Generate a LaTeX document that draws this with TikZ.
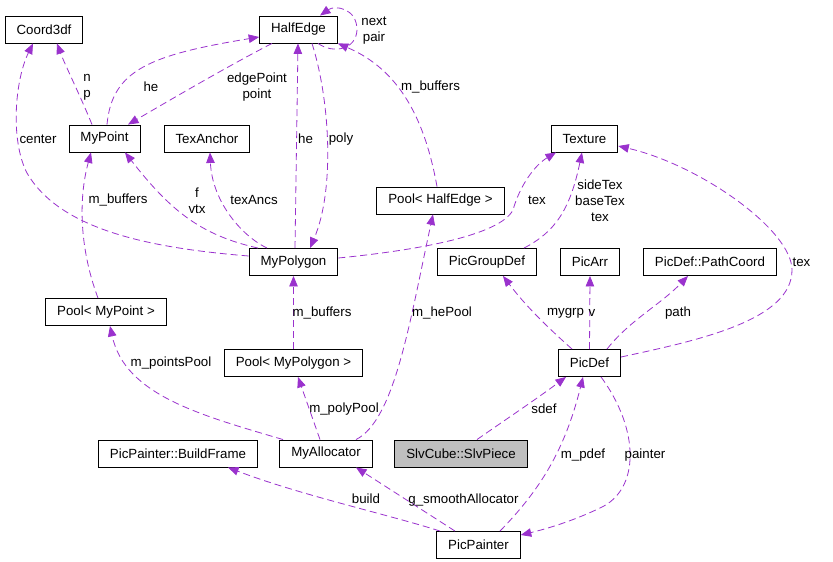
\documentclass[tikz,border=0pt]{standalone}
\usepackage{fontspec}
\setmainfont{Liberation Sans}
\usetikzlibrary{arrows.meta}
\definecolor{edgecol}{HTML}{9A32CD}
\definecolor{slvfill}{HTML}{BFBFBF}
\tikzset{
  cls/.style={draw=black, line width=0.9bp, fill=white, inner xsep=11.5bp, inner ysep=0bp,
    minimum height=27bp, font=\fontsize{13.3bp}{16bp}\selectfont},
  rel/.style={draw=edgecol, line width=0.8bp, dash pattern=on 7bp off 4bp,
    -{Triangle[length=10.5bp,width=8.5bp,fill=edgecol]}},
  lbl/.style={inner sep=0bp, align=center, font=\fontsize{13.3bp}{16bp}\selectfont}
}
\begin{document}
\begin{tikzpicture}[x=1bp,y=-1bp]
\useasboundingbox (0,0) rectangle (833,562);
% nodes
\node[cls] (coord) at (44,29.5) {Coord3df};
\node[cls] (half) at (298.5,29.5) {HalfEdge};
\node[cls] (mypoint) at (104.5,138.5) {MyPoint};
\node[cls] (texanchor) at (207,138.5) {TexAnchor};
\node[cls] (texture) at (584.5,138.5) {Texture};
\node[cls] (poolhe) at (440.5,200.5) {Pool< HalfEdge >};
\node[cls] (mypoly) at (293.5,262) {MyPolygon};
\node[cls] (picgroup) at (487,262) {PicGroupDef};
\node[cls] (picarr) at (590,262) {PicArr};
\node[cls] (pathcoord) at (710,262) {PicDef::PathCoord};
\node[cls] (poolpt) at (106,312) {Pool< MyPoint >};
\node[cls] (poolpoly) at (293.5,363) {Pool< MyPolygon >};
\node[cls] (picdef) at (589.5,363) {PicDef};
\node[cls] (build) at (178,453.5) {PicPainter::BuildFrame};
\node[cls] (alloc) at (326,453.5) {MyAllocator};
\node[cls, fill=slvfill] (slv) at (461,453.5) {SlvCube::SlvPiece};
\node[cls] (painter) at (478.5,545) {PicPainter};

% edges
\draw[rel] ([yshift=6bp]mypoly.west) .. controls (150,248) and (60,230) .. (27,173)
  .. controls (10,140) and (15,80) .. ([xshift=-11bp]coord.south);
\draw[rel] ([xshift=-12.5bp]mypoint.north) .. controls (80,95) and (65,65) .. ([xshift=13bp]coord.south);
\draw[rel] ([xshift=2.5bp]mypoint.north) .. controls (112,70) and (150,55) .. ([yshift=-7.5bp]half.west);
\draw[rel] ([xshift=-26.5bp]half.south) .. controls (230,65) and (170,100) .. ([xshift=23.5bp]mypoint.north);
\draw[rel] ([xshift=19.5bp]half.south) .. controls (333,54) and (356,50) .. (357,30)
  .. controls (357,8) and (335,5) .. ([xshift=21.5bp]half.north);
\draw[rel] ([xshift=1.5bp]mypoly.north) -- ([xshift=-0.5bp]half.south);
\draw[rel] ([xshift=13.5bp]half.south) .. controls (330,100) and (335,190) .. ([xshift=16.5bp]mypoly.north);
\draw[rel] ([xshift=-3.5bp]poolhe.north) .. controls (425,120) and (400,70) .. (half.south east);
\draw[rel] ([xshift=-35.5bp]mypoly.north) .. controls (200,235) and (170,210) .. ([xshift=20.5bp]mypoint.south);
\draw[rel] ([xshift=-26.5bp]mypoly.north) .. controls (240,235) and (212,200) .. ([xshift=3bp]texanchor.south);
\draw[rel] ([xshift=-8bp]poolpt.north) .. controls (80,250) and (78,200) .. ([xshift=-13.5bp]mypoint.south);
\draw[rel] ([yshift=4bp]mypoly.east) .. controls (420,250) and (500,235) .. (513,210)
  .. controls (520,185) and (535,165) .. ([xshift=-28.5bp]texture.south);
\draw[rel] ([xshift=37bp]picgroup.north) .. controls (555,232) and (570,210) .. ([xshift=-2.5bp]texture.south);
\draw[rel] ([yshift=6bp]picdef.east) .. controls (700,340) and (792,320) .. (792,270)
  .. controls (792,230) and (700,165) .. ([yshift=-7.5bp]texture.east);
\draw[rel] (poolpoly.north) -- (mypoly.south);
\draw[rel] ([xshift=-43bp]alloc.north) .. controls (200,415) and (125,395) .. ([xshift=4bp]poolpt.south);
\draw[rel] ([xshift=-6bp]alloc.north) -- ([xshift=4.5bp]poolpoly.south);
\draw[rel] ([xshift=30bp]alloc.north) .. controls (395,420) and (410,320) .. ([xshift=-7.5bp]poolhe.south);
\draw[rel] ([xshift=-17.5bp]picdef.north) .. controls (545,325) and (525,305) .. ([xshift=16bp]picgroup.south);
\draw[rel] (picdef.north) -- (picarr.south);
\draw[rel] ([xshift=17.5bp]picdef.north) .. controls (630,320) and (660,305) .. ([xshift=-22bp]pathcoord.south);
\draw[rel] ([xshift=16bp]slv.north) .. controls (505,420) and (535,400) .. ([xshift=-23.5bp]picdef.south);
\draw[rel] ([xshift=21.5bp]painter.north) .. controls (540,490) and (565,450) .. ([xshift=-6.5bp]picdef.south);
\draw[rel] ([xshift=11.5bp]picdef.south) .. controls (640,430) and (640,490) .. (600,508)
  .. controls (575,520) and (550,528) .. ([yshift=10bp]painter.east);
\draw[rel] ([xshift=-38.5bp]painter.north) .. controls (390,515) and (300,495) .. ([xshift=50bp]build.south);
\draw[rel] ([xshift=-23.5bp]painter.north) -- ([xshift=30bp]alloc.south);

% labels
\node[lbl] (l1) at (38,139) {center};
\node[lbl] (l2) at (87,87) {n\\p};
\node[lbl] (l3) at (151,87) {he};
\node[lbl] (l4) at (257,87) {edgePoint\\point};
\node[lbl] (l5) at (374,31) {next\\pair};
\node[lbl] (l6) at (305.5,139) {he};
\node[lbl] (l7) at (341,139) {poly};
\node[lbl] (l8) at (430.5,87) {m\_buffers};
\node[lbl] (l9) at (197,201) {f\\vtx};
\node[lbl] (l10) at (254,200) {texAncs};
\node[lbl] (l11) at (118,200) {m\_buffers};
\node[lbl] (l12) at (537,200) {tex};
\node[lbl] (l13) at (600,201) {sideTex\\baseTex\\tex};
\node[lbl] (l14) at (801.5,262) {tex};
\node[lbl] (l15) at (322,313) {m\_buffers};
\node[lbl] (l16) at (171,363) {m\_pointsPool};
\node[lbl] (l17) at (344,409) {m\_polyPool};
\node[lbl] (l18) at (442,313) {m\_hePool};
\node[lbl] (l19) at (565.5,313) {mygrp};
\node[lbl] (l20) at (592,313) {v};
\node[lbl] (l21) at (678,313) {path};
\node[lbl] (l22) at (544,409) {sdef};
\node[lbl] (l23) at (583,455) {m\_pdef};
\node[lbl] (l24) at (645,455) {painter};
\node[lbl] (l25) at (366,499) {build};
\node[lbl] (l26) at (463.5,500) {g\_smoothAllocator};
\end{tikzpicture}
\end{document}
